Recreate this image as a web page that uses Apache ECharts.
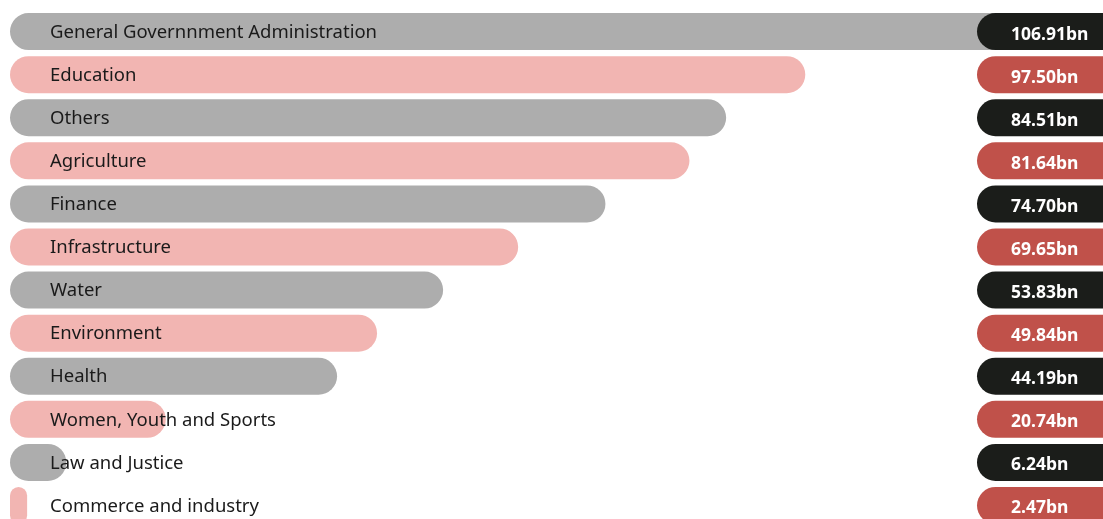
<!DOCTYPE html>
<html>
<head>
<meta charset="utf-8">
<script src="https://cdn.jsdelivr.net/npm/echarts@6/dist/echarts.min.js"></script>
<style>
  html, body { margin: 0; padding: 0; background: #fff; overflow: hidden; }
  #chart { width: 1103px; height: 527px; }
</style>
</head>
<body>
<div id="chart"></div>
<script>
  // sectors, top to bottom
  const categories = ['General Governnment Administration', 'Education', 'Others', 'Agriculture', 'Finance',
    'Infrastructure', 'Water', 'Environment', 'Health', 'Women, Youth and Sports', 'Law and Justice', 'Commerce and industry']
  // amounts shown in the pills (bn)
  const amounts = [106.91, 97.50, 84.51, 81.64, 74.70, 69.65, 53.83, 49.84, 44.19, 20.74, 6.24, 2.47]
  // bar lengths as drawn in the picture
  const barLengths = [125, 97.5, 87.8, 83.3, 73.0, 62.3, 53.1, 45.0, 40.1, 19.1, 6.9, 2.1]

  const barColors = ['#adadad', '#f2b5b2']
  const pillColors = ['#1b1d1a', '#c0514a']

  const chart = echarts.init(document.getElementById('chart'))

  const pillText = {
    show: true,
    position: [967, '50%'],
    align: 'left',
    verticalAlign: 'middle',
    fontFamily: 'Noto Sans',
    fontWeight: 'bold',
    fontSize: 17.5,
    formatter: (p) => amounts[p.dataIndex].toFixed(2) + 'bn'
  }

  let option = {
    animation: false,
    grid: { left: 10, right: 0, top: 10, bottom: 0 },
    xAxis: { type: 'value', min: 0, max: 134, show: false },
    yAxis: { type: 'category', data: categories, inverse: true, show: false },
    series: [
      {
        type: 'bar',
        barWidth: 37,
        barGap: '-100%',
        data: barLengths.map((v, i) => ({
          value: v,
          itemStyle: { color: barColors[i % 2], borderRadius: 18.5 }
        })),
        label: {
          show: true,
          position: [40, '50%'],
          align: 'left',
          verticalAlign: 'middle',
          offset: [0, 1],
          color: '#1a1a1a',
          fontFamily: 'Noto Sans',
          fontSize: 18.5,
          formatter: (p) => categories[p.dataIndex]
        }
      },
      {
        // pill backgrounds
        type: 'bar',
        barWidth: 37,
        barGap: '-100%',
        silent: true,
        data: amounts.map((v, i) => ({
          value: v,
          label: { backgroundColor: pillColors[i % 2] }
        })),
        itemStyle: { color: 'transparent' },
        label: Object.assign({}, pillText, {
          color: 'transparent',
          width: 110,
          height: 37,
          lineHeight: 37,
          padding: [0, 0, 0, 34],
          borderRadius: 18.5
        })
      },
      {
        // pill values
        type: 'bar',
        barWidth: 37,
        barGap: '-100%',
        silent: true,
        data: amounts,
        itemStyle: { color: 'transparent' },
        label: Object.assign({}, pillText, {
          position: [1001, '50%'],
          color: '#fff',
          offset: [0, 3]
        })
      }
    ]
  }
  chart.setOption(option)
</script>
</body>
</html>
